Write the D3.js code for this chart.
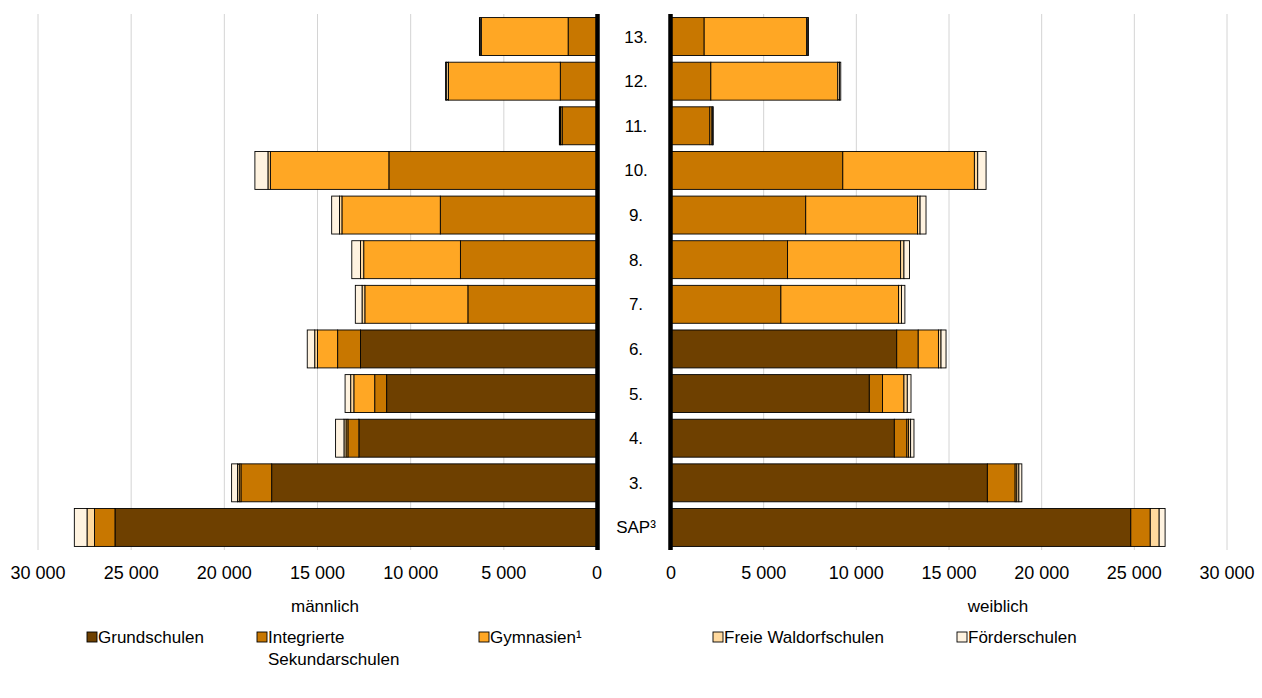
<!DOCTYPE html>
<html>
<head>
<meta charset="utf-8">
<script src="https://cdn.jsdelivr.net/npm/d3@7"></script>
<style>
    body { margin: 0; background: #fff; }
    svg text { font-family: "Liberation Sans", Arial, sans-serif; fill: #000; }
</style>
</head>
<body>
<div id="chart"></div>
<script>
// Jahrgangsstufen (top to bottom)
const grades = ["13.", "12.", "11.", "10.", "9.", "8.", "7.", "6.", "5.", "4.", "3.", "SAP³"];

// Schularten
const schoolTypes = ["Grundschulen", "Integrierte Sekundarschulen", "Gymnasien¹", "Freie Waldorfschulen", "Förderschulen"];
const typeColors = ["#6e4000", "#c87700", "#ffa724", "#ffd99e", "#fff3e0"];

// männlich
const maleGrund    = [0, 0, 0, 0, 0, 0, 0, 12690, 11290, 12780, 17460, 25870];
const maleISS      = [1550, 1970, 1870, 11170, 8410, 7330, 6930, 1230, 640, 590, 1650, 1100];
const maleGym      = [4660, 6000, 80, 6360, 5280, 5190, 5530, 1080, 1120, 100, 90, 0];
const maleWaldorf  = [60, 100, 40, 130, 130, 170, 150, 150, 170, 110, 90, 400];
const maleFoerder  = [40, 60, 30, 700, 420, 470, 360, 400, 300, 450, 320, 680];

// weiblich
const femaleGrund   = [0, 0, 0, 0, 0, 0, 0, 12180, 10700, 12050, 17070, 24810];
const femaleISS     = [1790, 2150, 2100, 9270, 7270, 6290, 5930, 1160, 710, 680, 1500, 1050];
const femaleGym     = [5530, 6850, 110, 7100, 6030, 6100, 6350, 1090, 1160, 90, 90, 0];
const femaleWaldorf = [60, 90, 40, 180, 140, 180, 160, 140, 180, 110, 110, 480];
const femaleFoerder = [40, 70, 30, 450, 320, 300, 180, 270, 200, 180, 160, 320];

const tickValues = [0, 5000, 10000, 15000, 20000, 25000, 30000];

const width = 1262, height = 698;
const plotTop = 14, plotBottom = 550;

const svg = d3.select("#chart").append("svg")
    .attr("width", width)
    .attr("height", height);

const fmt = d3.formatLocale({ decimal: ",", thousands: " ", grouping: [3], currency: ["", ""] }).format(",d");

const y = d3.scaleBand()
    .domain(grades)
    .range([plotTop, plotBottom])
    .paddingInner(0.15)
    .paddingOuter(0.08);

const xLeft = d3.scaleLinear().domain([0, 30000]).range([597, 38]);
const xRight = d3.scaleLinear().domain([0, 30000]).range([671, 1227]);

function stackRows(series) {
    return grades.map((g, i) => {
        const row = { grade: g };
        schoolTypes.forEach((t, j) => row[t] = series[j][i]);
        return row;
    });
}

const stack = d3.stack().keys(schoolTypes);
const maleStack = stack(stackRows([maleGrund, maleISS, maleGym, maleWaldorf, maleFoerder]));
const femaleStack = stack(stackRows([femaleGrund, femaleISS, femaleGym, femaleWaldorf, femaleFoerder]));

// gridlines
function drawGrid(x) {
    svg.append("g").selectAll("line")
        .data(tickValues.filter(v => v > 0))
        .enter().append("line")
        .attr("x1", d => x(d)).attr("x2", d => x(d))
        .attr("y1", plotTop).attr("y2", plotBottom)
        .attr("stroke", "#d4d4d4")
        .attr("stroke-width", 1);
}
drawGrid(xLeft);
drawGrid(xRight);

// bars
function drawBars(layers, x, leftSide) {
    svg.append("g").selectAll("g")
        .data(layers)
        .enter().append("g")
        .attr("fill", (d, i) => typeColors[i])
        .selectAll("rect")
        .data(d => d.filter(s => s[1] - s[0] > 0).map(s => ({ s: s, grade: s.data.grade })))
        .enter().append("rect")
        .attr("x", d => leftSide ? x(d.s[1]) : x(d.s[0]))
        .attr("width", d => Math.abs(x(d.s[1]) - x(d.s[0])))
        .attr("y", d => y(d.grade))
        .attr("height", y.bandwidth())
        .attr("stroke", "#000")
        .attr("stroke-width", 0.9);
}
drawBars(maleStack, xLeft, true);
drawBars(femaleStack, xRight, false);

// center axes
[597.5, 670.5].forEach(ax => {
    svg.append("line")
        .attr("x1", ax).attr("x2", ax)
        .attr("y1", plotTop).attr("y2", plotBottom)
        .attr("stroke", "#000")
        .attr("stroke-width", 4.5);
});

// grade labels
svg.append("g").selectAll("text")
    .data(grades)
    .enter().append("text")
    .attr("x", 636)
    .attr("y", d => y(d) + y.bandwidth() / 2 + 6)
    .attr("text-anchor", "middle")
    .attr("font-size", 17)
    .text(d => d);

// tick labels
function drawTicks(x) {
    svg.append("g").selectAll("text")
        .data(tickValues)
        .enter().append("text")
        .attr("x", d => x(d))
        .attr("y", 579)
        .attr("text-anchor", "middle")
        .attr("font-size", 18)
        .text(d => fmt(d));
}
drawTicks(xLeft);
drawTicks(xRight);

// axis titles
svg.append("text").attr("x", 325).attr("y", 612).attr("text-anchor", "middle")
    .attr("font-size", 17).text("männlich");
svg.append("text").attr("x", 998).attr("y", 612).attr("text-anchor", "middle")
    .attr("font-size", 17).text("weiblich");

// legend
const legendX = [87, 257, 479, 713, 957];
const legendLines = [["Grundschulen"], ["Integrierte", "Sekundarschulen"], ["Gymnasien¹"], ["Freie Waldorfschulen"], ["Förderschulen"]];
const legend = svg.append("g").selectAll("g")
    .data(schoolTypes)
    .enter().append("g")
    .attr("transform", (d, i) => `translate(${legendX[i]}, 632)`);

legend.append("rect")
    .attr("width", 10).attr("height", 10)
    .attr("fill", (d, i) => typeColors[i])
    .attr("stroke", "#000")
    .attr("stroke-width", 0.9);

legend.append("text")
    .attr("x", 11)
    .attr("y", 11)
    .attr("font-size", 17)
    .selectAll("tspan")
    .data((d, i) => legendLines[i])
    .enter().append("tspan")
    .attr("x", 11)
    .attr("dy", (d, i) => i === 0 ? 0 : 22)
    .text(d => d);
</script>
</body>
</html>
